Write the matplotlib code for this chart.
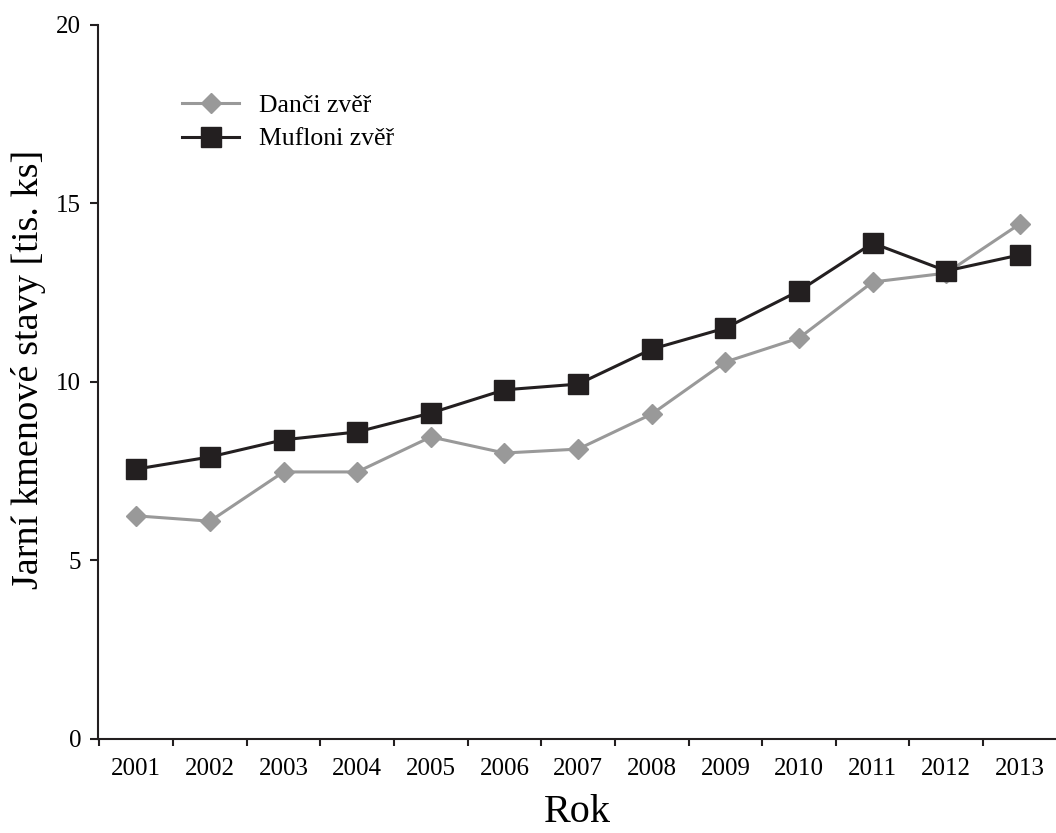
import matplotlib.pyplot as plt
from matplotlib.ticker import FixedLocator, FixedFormatter

plt.rcParams['font.family'] = ['Liberation Serif', 'DejaVu Serif']

# data (thousands of animals)
years = [2001, 2002, 2003, 2004, 2005, 2006, 2007, 2008, 2009, 2010, 2011, 2012, 2013]
danci = [6.25, 6.1, 7.48, 7.48, 8.46, 8.01, 8.12, 9.1, 10.56, 11.23, 12.8, 13.05, 14.43]
mufloni = [7.56, 7.9, 8.38, 8.6, 9.13, 9.78, 9.94, 10.92, 11.51, 12.55, 13.89, 13.11, 13.56]
series_names = ['Danči zvěř', 'Mufloni zvěř']
y_ticks = [0, 5, 10, 15, 20]

fig = plt.figure(figsize=(10.56, 8.33), dpi=100)
ax = fig.add_axes([0.0928, 0.1129, 0.9072, 0.8571])

ax.plot(years, danci, color='#999999', lw=2.2, marker='D', ms=10,
        label=series_names[0], zorder=2)
ax.plot(years, mufloni, color='#231f20', lw=2.2, marker='s', ms=14.4,
        label=series_names[1], zorder=3)

ax.set_xlim(years[0] - 0.52, years[-1] + 0.49)
ax.set_ylim(0, 20)

for s in ['top', 'right']:
    ax.spines[s].set_visible(False)
for s in ['left', 'bottom']:
    ax.spines[s].set_linewidth(1.5)
    ax.spines[s].set_color('#231f20')

# tick marks between years, labels on years
ax.xaxis.set_major_locator(FixedLocator([y - 0.5 for y in years]))
ax.xaxis.set_major_formatter(FixedFormatter([''] * len(years)))
ax.xaxis.set_minor_locator(FixedLocator(years))
ax.xaxis.set_minor_formatter(FixedFormatter([str(y) for y in years]))
ax.tick_params(axis='x', which='major', direction='out', length=5, width=1.5, color='#231f20')
ax.tick_params(axis='x', which='minor', length=0, pad=14, labelsize=18)

ax.set_yticks(y_ticks)
ax.tick_params(axis='y', direction='out', length=6, width=1.5, pad=6, labelsize=18, color='#231f20')

ax.set_xlabel('Rok', fontsize=29, labelpad=10)
ax.set_ylabel('Jarní kmenové stavy [tis. ks]', fontsize=27.5)
ax.yaxis.set_label_coords(-0.054, 0.517)

ax.legend(loc='upper left', bbox_to_anchor=(0.088, 0.903), frameon=False,
          fontsize=18.5, handlelength=2.2, handletextpad=0.8, borderpad=0,
          borderaxespad=0, labelspacing=0.4)

fig.savefig('out.png', dpi=100)
